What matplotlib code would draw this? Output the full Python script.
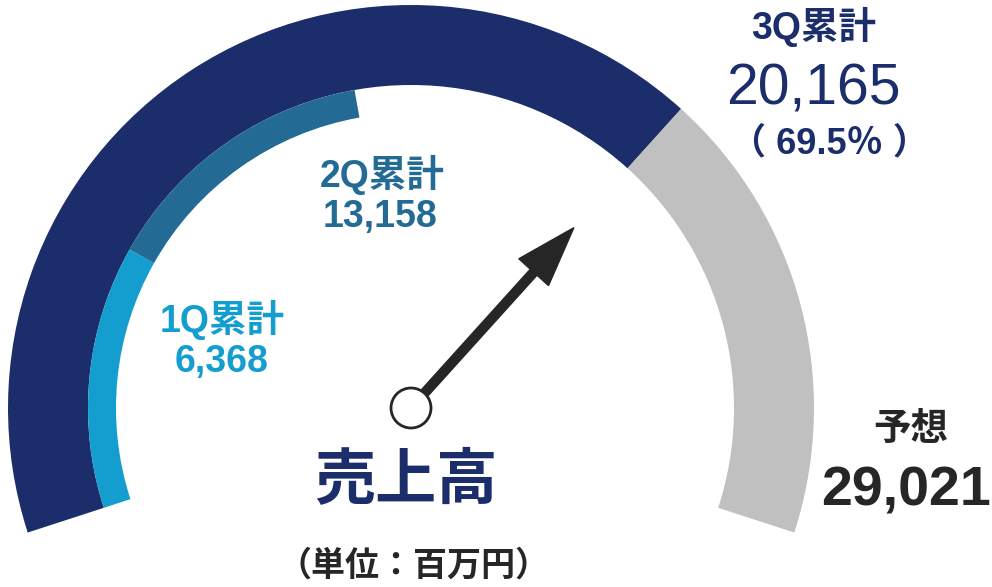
import numpy as np
import matplotlib
matplotlib.use("Agg")
import matplotlib.pyplot as plt
from matplotlib.patches import Wedge, Circle, FancyArrow

plt.rcParams['font.family'] = ['Liberation Sans', 'Noto Sans CJK JP']

# sales figures (million yen)
labels = ['1Q累計', '2Q累計', '3Q累計', '予想']
values = [6368, 13158, 20165, 29021]
progress_text = '（ 69.5％ ）'

NAVY = '#1b2e6b'
TEAL = '#236a94'
LIGHT = '#139ecf'
GRAY = '#c0c0c0'
DARK = '#262626'

# gauge geometry (pixel units, y up)
cx, cy = 411, 179
start_ang, span = 198.0, 216.0
r_out, r_mid, r_in = 403, 323, 295


def ang(v):
    return start_ang - span * v / values[-1]


fig = plt.figure(figsize=(9.92, 5.87), dpi=100)
ax = fig.add_axes([0, 0, 1, 1])
ax.set_xlim(0, 992)
ax.set_ylim(0, 587)
ax.set_aspect('equal')
ax.axis('off')

# outer band: 3Q actual vs remaining to forecast
ax.add_patch(Wedge((cx, cy), r_out, ang(values[2]), start_ang,
                   width=r_out - r_mid, facecolor=NAVY, edgecolor='none'))
ax.add_patch(Wedge((cx, cy), r_out, ang(values[3]), ang(values[2]),
                   width=r_out - r_mid, facecolor=GRAY, edgecolor='none'))
# inner band: 1Q and 2Q
ax.add_patch(Wedge((cx, cy), r_mid, ang(values[0]), start_ang,
                   width=r_mid - r_in, facecolor=LIGHT, edgecolor='none'))
ax.add_patch(Wedge((cx, cy), r_mid, ang(values[1]), ang(values[0]),
                   width=r_mid - r_in, facecolor=TEAL, edgecolor='none'))

# needle
a = np.radians(ang(values[2]))
L = 243
ax.add_patch(FancyArrow(cx, cy, L * np.cos(a), L * np.sin(a), width=9,
                        head_width=40, head_length=60,
                        length_includes_head=True, color=DARK, zorder=3))
ax.add_patch(Circle((cx, cy), 20, facecolor='white', edgecolor=DARK,
                    lw=2, zorder=4))

# labels
ax.text(222, 267, labels[0], color=LIGHT, fontsize=27, fontweight='bold',
        ha='center', va='center')
ax.text(222, 225, f'{values[0]:,}', color=LIGHT, fontsize=27,
        fontweight='bold', ha='center', va='center')
ax.text(382, 412, labels[1], color=TEAL, fontsize=27, fontweight='bold',
        ha='center', va='center')
ax.text(380, 370, f'{values[1]:,}', color=TEAL, fontsize=27,
        fontweight='bold', ha='center', va='center')
ax.text(814, 560, labels[2], color=NAVY, fontsize=27, fontweight='bold',
        ha='center', va='center')
ax.text(813, 498, f'{values[2]:,}', color=NAVY, fontsize=41,
        ha='center', va='center')
ax.text(829, 443, progress_text, color=NAVY, fontsize=26, fontweight='bold',
        ha='center', va='center')
ax.text(911, 157, labels[3], color=DARK, fontsize=27, fontweight='bold',
        ha='center', va='center')
ax.text(906, 95, f'{values[3]:,}', color=DARK, fontsize=40,
        fontweight='bold', ha='center', va='center')

ax.text(406, 104, '売上高', color=NAVY, fontsize=44, fontweight='bold',
        ha='center', va='center')
ax.text(413, 21, '（単位：百万円）', color=DARK, fontsize=24.5,
        fontweight='bold', ha='center', va='center')

fig.savefig('out.png', dpi=100)
